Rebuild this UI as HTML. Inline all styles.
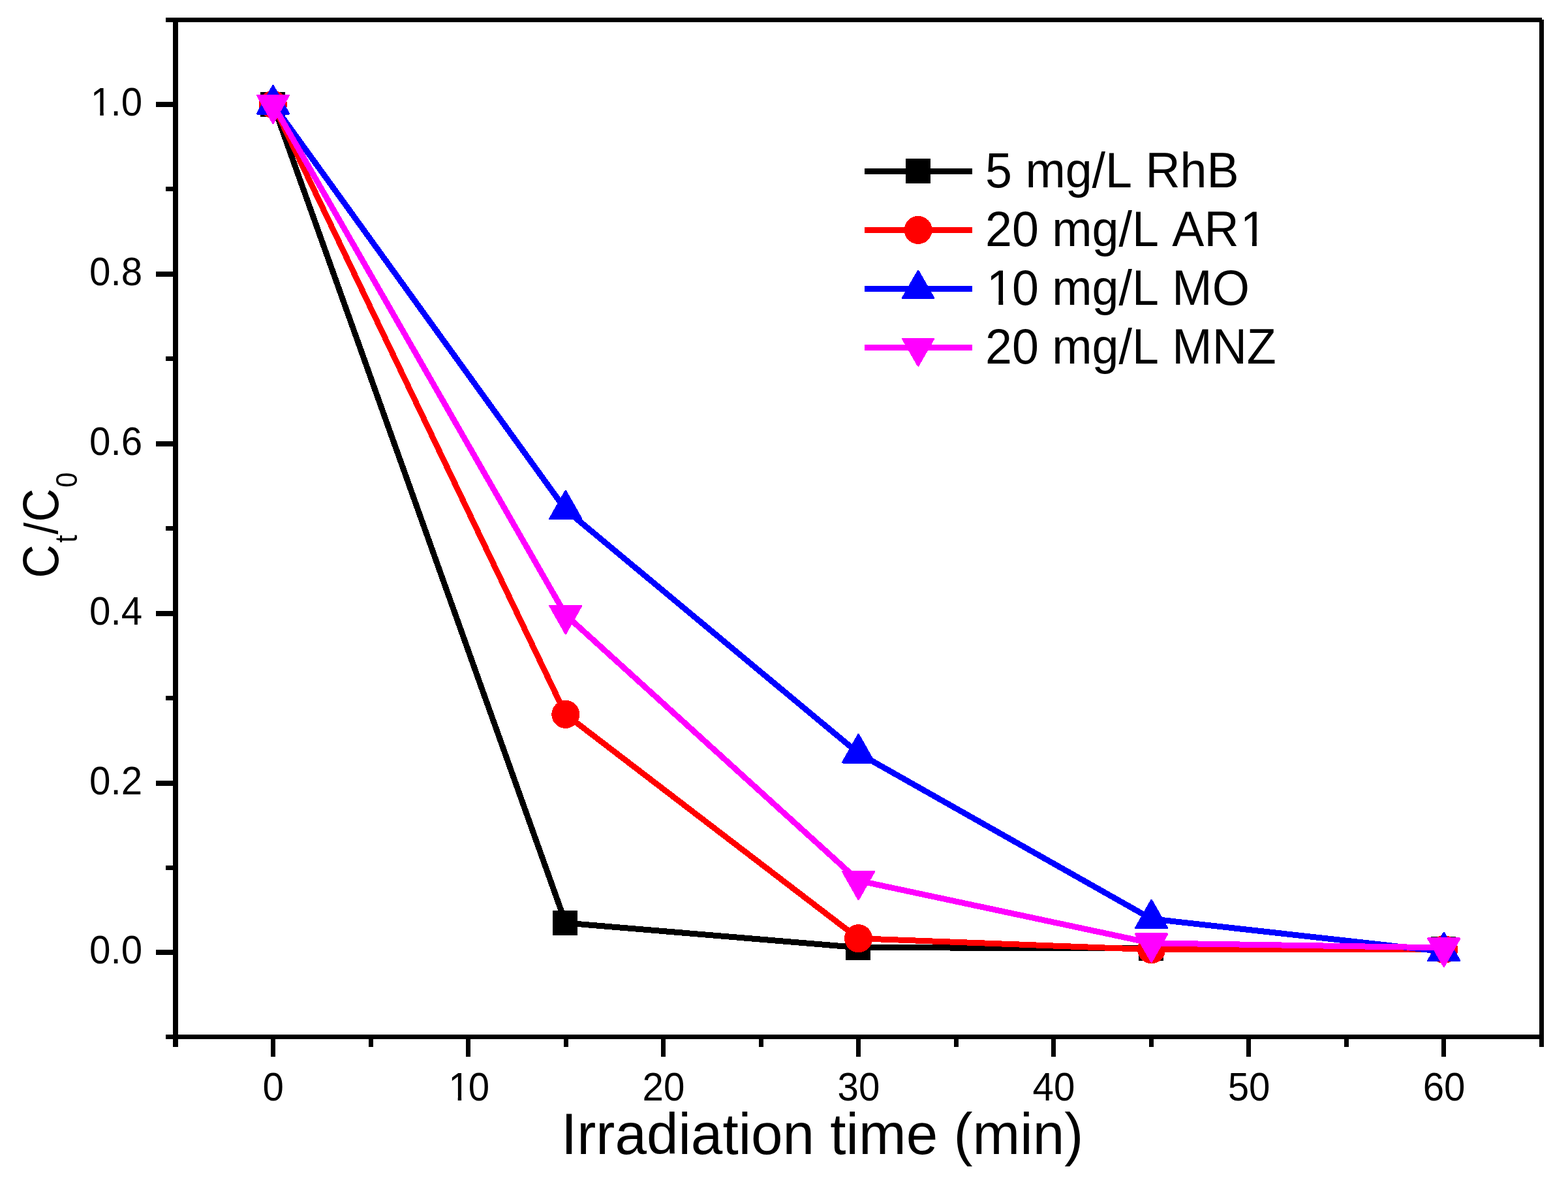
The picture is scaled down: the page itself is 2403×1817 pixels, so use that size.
<!DOCTYPE html>
<html lang="en"><head><meta charset="utf-8"><title>Ct/C0 vs Irradiation time</title>
<style>html,body{margin:0;padding:0;background:#fff;}body{width:2403px;height:1817px;overflow:hidden;}svg{display:block;}text{font-family:"Liberation Sans", sans-serif;fill:#000;font-kerning:none;white-space:pre;}</style>
</head><body>
<svg width="2403" height="1817" viewBox="0 0 2403 1817">
<rect x="0" y="0" width="2403" height="1817" fill="#ffffff"/>
<g id="plot" shape-rendering="crispEdges">
<polyline points="418.5,160.0 866.8,1414.0 1315.6,1451.7 1764.6,1452.7 2212.8,1454.0" fill="none" stroke="#000000" stroke-width="9" stroke-linejoin="round"/>
<rect x="399.0" y="141.0" width="38" height="38" fill="#000000"/>
<rect x="847.3" y="1395.0" width="38" height="38" fill="#000000"/>
<rect x="1296.1" y="1432.7" width="38" height="38" fill="#000000"/>
<rect x="1745.1" y="1433.7" width="38" height="38" fill="#000000"/>
<rect x="2193.3" y="1435.0" width="38" height="38" fill="#000000"/>
<polyline points="418.5,160.0 866.8,1094.4 1315.6,1437.7 1764.6,1454.7 2212.8,1454.5" fill="none" stroke="#ff0000" stroke-width="9" stroke-linejoin="round"/>
<circle cx="418.5" cy="160.0" r="21.5" fill="#ff0000"/>
<circle cx="866.8" cy="1094.4" r="21.5" fill="#ff0000"/>
<circle cx="1315.6" cy="1437.7" r="21.5" fill="#ff0000"/>
<circle cx="1764.6" cy="1454.7" r="21.5" fill="#ff0000"/>
<circle cx="2212.8" cy="1454.5" r="21.5" fill="#ff0000"/>
<polyline points="418.5,160.0 866.8,780.8 1315.6,1154.0 1764.6,1407.8 2212.8,1457.9" fill="none" stroke="#0000ff" stroke-width="9" stroke-linejoin="round"/>
<polygon points="418.5,131.5 442.6,174.0 394.4,174.0" fill="#0000ff" stroke="#0000ff" stroke-width="3" stroke-linejoin="round"/>
<polygon points="866.8,752.3 890.9,794.8 842.7,794.8" fill="#0000ff" stroke="#0000ff" stroke-width="3" stroke-linejoin="round"/>
<polygon points="1315.6,1125.5 1339.7,1168.0 1291.5,1168.0" fill="#0000ff" stroke="#0000ff" stroke-width="3" stroke-linejoin="round"/>
<polygon points="1764.6,1379.3 1788.7,1421.8 1740.5,1421.8" fill="#0000ff" stroke="#0000ff" stroke-width="3" stroke-linejoin="round"/>
<polygon points="2212.8,1429.4 2236.9,1471.9 2188.7,1471.9" fill="#0000ff" stroke="#0000ff" stroke-width="3" stroke-linejoin="round"/>
<polyline points="418.5,160.0 866.8,942.0 1315.6,1349.2 1764.6,1444.9 2212.8,1451.9" fill="none" stroke="#ff00ff" stroke-width="9" stroke-linejoin="round"/>
<polygon points="394.4,146.0 442.6,146.0 418.5,188.5" fill="#ff00ff" stroke="#ff00ff" stroke-width="3" stroke-linejoin="round"/>
<polygon points="842.7,928.0 890.9,928.0 866.8,970.5" fill="#ff00ff" stroke="#ff00ff" stroke-width="3" stroke-linejoin="round"/>
<polygon points="1291.5,1335.2 1339.7,1335.2 1315.6,1377.7" fill="#ff00ff" stroke="#ff00ff" stroke-width="3" stroke-linejoin="round"/>
<polygon points="1740.5,1430.9 1788.7,1430.9 1764.6,1473.4" fill="#ff00ff" stroke="#ff00ff" stroke-width="3" stroke-linejoin="round"/>
<polygon points="2188.7,1437.9 2236.9,1437.9 2212.8,1480.4" fill="#ff00ff" stroke="#ff00ff" stroke-width="3" stroke-linejoin="round"/>
</g>
<g id="axes" fill="#000" shape-rendering="crispEdges">
<rect x="265" y="27" width="8" height="1577"/>
<rect x="254" y="1585" width="2112" height="7"/>
<rect x="254" y="27" width="2109" height="7"/>
<rect x="2359" y="30" width="7" height="1574"/>
<rect x="239" y="1455" width="27" height="8"/>
<rect x="254" y="1326" width="12" height="7"/>
<rect x="239" y="1196" width="27" height="8"/>
<rect x="254" y="1066" width="12" height="7"/>
<rect x="239" y="936" width="27" height="8"/>
<rect x="254" y="806" width="12" height="7"/>
<rect x="239" y="676" width="27" height="8"/>
<rect x="254" y="546" width="12" height="7"/>
<rect x="239" y="416" width="27" height="8"/>
<rect x="254" y="286" width="12" height="7"/>
<rect x="239" y="156" width="27" height="8"/>
<rect x="415" y="1590" width="7" height="29"/>
<rect x="565" y="1590" width="7" height="14"/>
<rect x="714" y="1590" width="7" height="29"/>
<rect x="864" y="1590" width="7" height="14"/>
<rect x="1013" y="1590" width="7" height="29"/>
<rect x="1163" y="1590" width="7" height="14"/>
<rect x="1312" y="1590" width="7" height="29"/>
<rect x="1462" y="1590" width="7" height="14"/>
<rect x="1611" y="1590" width="7" height="29"/>
<rect x="1761" y="1590" width="7" height="14"/>
<rect x="1910" y="1590" width="7" height="29"/>
<rect x="2060" y="1590" width="7" height="14"/>
<rect x="2209" y="1590" width="7" height="29"/>
</g>
<g id="yticklabels">
<text transform="translate(137.06,1476.30) scale(0.5830,0.6034)" font-size="100">0.0</text>
<text transform="translate(137.06,1216.50) scale(0.5830,0.6034)" font-size="100">0.2</text>
<text transform="translate(137.06,956.70) scale(0.5830,0.6034)" font-size="100">0.4</text>
<text transform="translate(137.06,696.90) scale(0.5830,0.6034)" font-size="100">0.6</text>
<text transform="translate(137.06,437.10) scale(0.5830,0.6034)" font-size="100">0.8</text>
<clipPath id="k1"><rect x="-10" y="-110" width="159.0" height="100.4"/><rect x="-10.0" y="-10.6" width="18.5" height="50"/><rect x="27.9" y="-10.6" width="9.3" height="11.2"/><rect x="56.0" y="-10.6" width="93.0" height="50"/></clipPath>
<text transform="translate(137.06,177.30) scale(0.5830,0.6034)" font-size="100" clip-path="url(#k1)"><tspan dx="3.0">1</tspan><tspan dx="-3.0">.0</tspan></text>
</g>
<g id="xticklabels">
<text transform="translate(402.59,1685.80) scale(0.5830,0.6034)" font-size="100">0</text>
<clipPath id="k2"><rect x="-10" y="-110" width="131.2" height="100.4"/><rect x="-10.0" y="-10.6" width="18.5" height="50"/><rect x="27.9" y="-10.6" width="9.3" height="11.2"/><rect x="56.0" y="-10.6" width="65.2" height="50"/></clipPath>
<text transform="translate(685.43,1685.80) scale(0.5830,0.6034)" font-size="100" clip-path="url(#k2)"><tspan dx="3.0">1</tspan><tspan dx="-3.0">0</tspan></text>
<text transform="translate(984.48,1685.80) scale(0.5830,0.6034)" font-size="100">20</text>
<text transform="translate(1283.53,1685.80) scale(0.5830,0.6034)" font-size="100">30</text>
<text transform="translate(1582.58,1685.80) scale(0.5830,0.6034)" font-size="100">40</text>
<text transform="translate(1881.63,1685.80) scale(0.5830,0.6034)" font-size="100">50</text>
<text transform="translate(2180.68,1685.80) scale(0.5830,0.6034)" font-size="100">60</text>
</g>
<g id="xtitle">
<text transform="translate(860.00,1767.80) scale(0.8730,0.8861)" font-size="100">Irradiation time (min)</text>
</g>
<g id="ytitle" transform="translate(89.1,885.5) rotate(-90) scale(0.943,1.036)">
<text font-size="75"><tspan x="0" y="0">C</tspan><tspan x="57.3" y="27.5" font-size="45.8">t</tspan><tspan x="70.9" y="0.3" font-size="69.9">/</tspan><tspan x="91.1" y="0">C</tspan><tspan x="147.2" y="27.5" font-size="43.9">0</tspan></text>
</g>
<g id="legend">
<g shape-rendering="crispEdges"><rect x="1325" y="258.0" width="165" height="9" fill="#000000"/>
<rect x="1387.6" y="243.4" width="38" height="38" fill="#000000"/></g>
<text transform="translate(1510.00,287.00) scale(0.7360,0.7654)" font-size="100">5 mg/L RhB</text>
<g shape-rendering="crispEdges"><rect x="1325" y="348.0" width="165" height="9" fill="#ff0000"/>
<circle cx="1407.1" cy="352.4" r="21.5" fill="#ff0000"/></g>
<clipPath id="k3"><rect x="-10" y="-110" width="603.6" height="100.4"/><rect x="-10.0" y="-10.6" width="546.3" height="50"/><rect x="555.7" y="-10.6" width="9.3" height="11.2"/><rect x="583.8" y="-10.6" width="9.8" height="50"/></clipPath>
<text transform="translate(1510.00,376.90) scale(0.7360,0.7654)" font-size="100" clip-path="url(#k3)">20 mg/L AR<tspan dx="2.8">1</tspan></text>
<g shape-rendering="crispEdges"><rect x="1325" y="438.0" width="165" height="9" fill="#0000ff"/>
<polygon points="1407.1,415.3 1430.7,456.4 1383.5,456.4" fill="#0000ff" stroke="#0000ff" stroke-width="3" stroke-linejoin="round"/></g>
<clipPath id="k4"><rect x="-10" y="-110" width="570.2" height="100.4"/><rect x="-10.0" y="-10.6" width="18.3" height="50"/><rect x="27.7" y="-10.6" width="9.3" height="11.2"/><rect x="55.8" y="-10.6" width="504.4" height="50"/></clipPath>
<text transform="translate(1510.00,466.90) scale(0.7360,0.7654)" font-size="100" clip-path="url(#k4)"><tspan dx="2.8">1</tspan><tspan dx="-2.8">0 mg/L MO</tspan></text>
<g shape-rendering="crispEdges"><rect x="1325" y="528.0" width="165" height="9" fill="#ff00ff"/>
<polygon points="1383.5,519.0 1430.7,519.0 1407.1,560.1" fill="#ff00ff" stroke="#ff00ff" stroke-width="3" stroke-linejoin="round"/></g>
<text transform="translate(1510.00,556.80) scale(0.7360,0.7654)" font-size="100">20 mg/L MNZ</text>
</g>
</svg></body></html>
